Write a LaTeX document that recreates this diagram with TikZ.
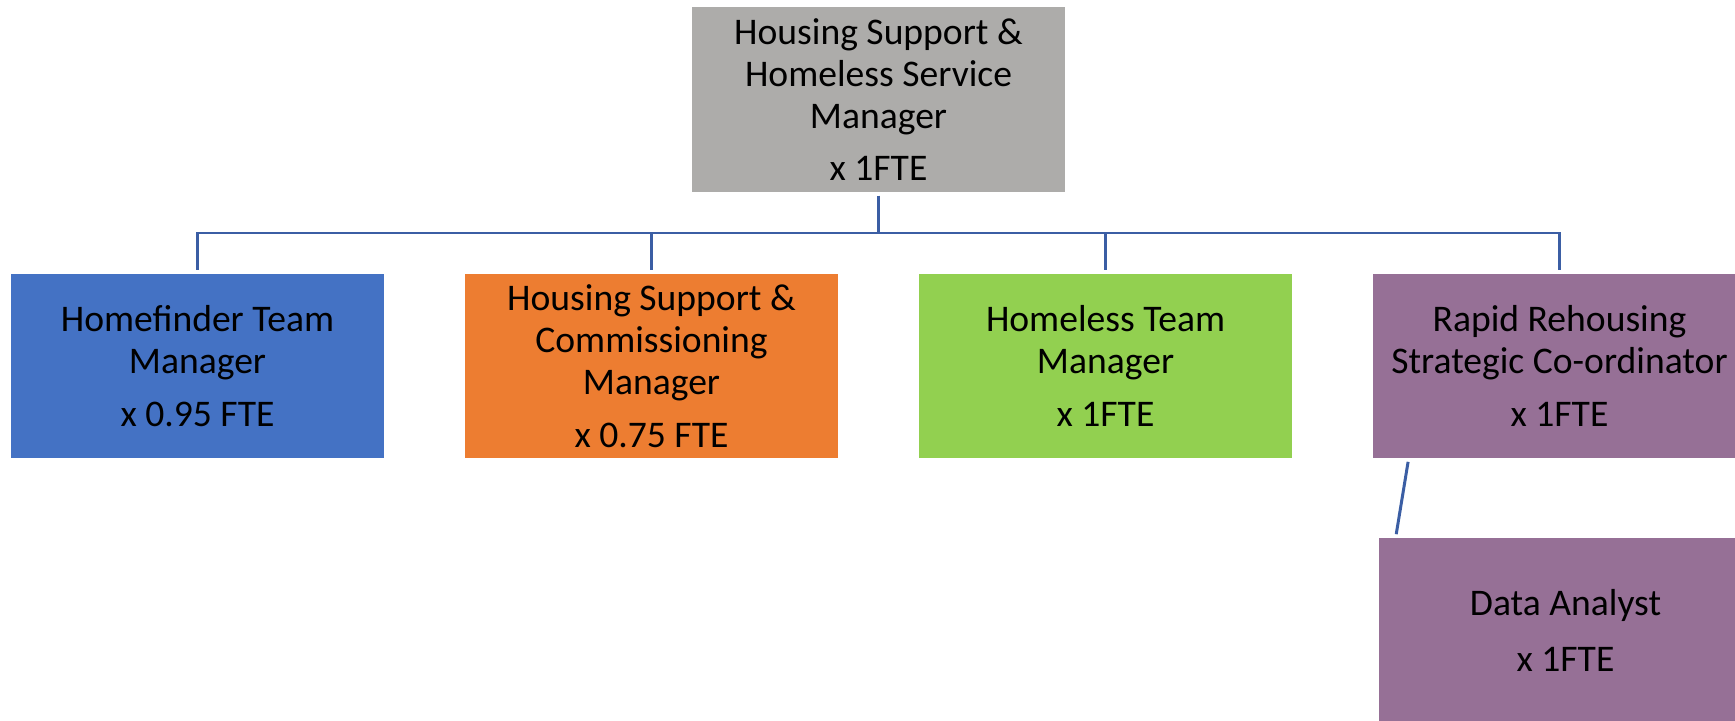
\documentclass[tikz,border=0pt]{standalone}
\usepackage{fontspec}
\setmainfont{Carlito}
\usepackage{tikz}
\usetikzlibrary{positioning,calc}
\definecolor{boxgray}{RGB}{173,172,170}
\definecolor{boxblue}{RGB}{68,114,196}
\definecolor{boxorange}{RGB}{237,125,49}
\definecolor{boxgreen}{RGB}{146,208,80}
\definecolor{boxpurple}{RGB}{150,112,150}
\definecolor{linkblue}{RGB}{59,94,164}

\begin{document}
\begin{tikzpicture}[shorten >=2pt,shorten <=2pt,
                post node/.style={rectangle,inner sep=0pt,minimum width=7.46cm,minimum height=3.68cm,
                                  align=center,font=\fontsize{21.4}{23.9}\selectfont},
                link/.style={draw=linkblue,line width=1.7pt}]
\useasboundingbox (0,0) rectangle (34.7,-14.4);
%Nodes
    \node[post node, fill=boxgray, minimum height=3.7cm] (mgr) at (17.57,-1.99) {Housing Support \&\\Homeless Service\\Manager\\[6pt]x 1FTE};
    \node[post node, fill=boxblue] (homefinder) at (3.95,-7.32) {Homefinder Team\\Manager\\[6pt]x 0.95 FTE};
    \node[post node, fill=boxorange] (commission) at (13.03,-7.32) {Housing Support \&\\Commissioning\\Manager\\[6pt]x 0.75 FTE};
    \node[post node, fill=boxgreen] (homeless) at (22.11,-7.32) {Homeless Team\\Manager\\[6pt]x 1FTE};
    \node[post node, fill=boxpurple] (rapid) at (31.19,-7.32) {Rapid Rehousing\\Strategic Co-ordinator\\[6pt]x 1FTE};
    \node[post node, fill=boxpurple] (analyst) at (31.31,-12.6) {Data Analyst\\[8pt]x 1FTE};
    \coordinate (bus) at (0,-4.66);

    \foreach \n in {homefinder,commission,homeless,rapid}
        \draw[link] (mgr.south) -- (mgr.south |- bus) -| (\n.north);
    \draw[link] ($(rapid.south west)+(0.72,0)$) -- ($(analyst.north west)+(0.34,0)$);
\end{tikzpicture}
\end{document}
